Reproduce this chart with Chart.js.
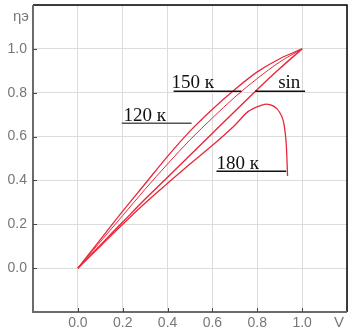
<!DOCTYPE html>
<html><head><meta charset="utf-8">
<script src="https://cdn.jsdelivr.net/npm/chart.js@4/dist/chart.umd.min.js"></script>
<style>html,body{margin:0;padding:0;background:#fff}canvas{display:block}</style>
</head><body>
<canvas id="c" width="356" height="330"></canvas>
<script>
// Data
const v120 = [0, 0.1, 0.2, 0.3, 0.4, 0.5, 0.6, 0.7, 0.8, 0.9, 1.0];
const eta120 = [0, 0.13, 0.26, 0.385, 0.51, 0.625, 0.725, 0.815, 0.895, 0.955, 1.0];
const v150 = [0, 0.1, 0.2, 0.3, 0.4, 0.5, 0.6, 0.7, 0.8, 0.9, 1.0];
const eta150 = [0, 0.12, 0.24, 0.36, 0.475, 0.585, 0.685, 0.78, 0.865, 0.94, 1.0];
const vSin = [0, 0.1, 0.2, 0.3, 0.4, 0.5, 0.6, 0.7, 0.8, 0.9, 1.0];
const etaSin = [0, 0.105, 0.21, 0.315, 0.415, 0.515, 0.615, 0.715, 0.815, 0.91, 1.0];
const v180 = [0, 0.1, 0.2, 0.3, 0.4, 0.5, 0.6, 0.7, 0.76, 0.82, 0.84, 0.87, 0.9, 0.92, 0.93, 0.935];
const eta180 = [0, 0.1, 0.2, 0.297, 0.387, 0.475, 0.56, 0.652, 0.715, 0.743, 0.748, 0.74, 0.71, 0.65, 0.55, 0.42];
const xTicks = [-0.2, 0, 0.2, 0.4, 0.6, 0.8, 1.0, 1.2];
const yTicks = [-0.2, 0, 0.2, 0.4, 0.6, 0.8, 1.0, 1.2];
const curveLabels = ['120 к', '150 к', 'sin', '180 к'];
const yTitle = 'ηэ';
const xTitle = 'V';

const RED = '#e8283a';
const pts = (xs, ys) => xs.map((x, i) => ({x, y: ys[i]}));

// label anchor in data units: [text-left, baseline, underline-from, underline-to, underline-y]
const labelAnchors = [
  [0.204, 0.673, 0.196, 0.507, 0.664],
  [0.418, 0.823, 0.427, 0.729, 0.809],
  [0.893, 0.823, 0.791, 1.013, 0.809],
  [0.618, 0.452, 0.618, 0.929, 0.441]
];

const decor = {
  id: 'decor',
  afterDatasetsDraw(chart) {
    const {ctx, chartArea: a, scales: {x, y}} = chart;
    ctx.save();
    // frame
    ctx.lineWidth = 1.5;
    ctx.strokeStyle = '#000';
    ctx.beginPath();
    ctx.moveTo(a.left, a.top); ctx.lineTo(a.right, a.top); ctx.lineTo(a.right, a.bottom);
    ctx.stroke();
    ctx.strokeStyle = '#6b6b6b';
    ctx.lineWidth = 2;
    ctx.beginPath();
    ctx.moveTo(a.left, a.top); ctx.lineTo(a.left, a.bottom); ctx.lineTo(a.right, a.bottom);
    ctx.stroke();
    // inner tick marks
    ctx.lineWidth = 1;
    ctx.strokeStyle = '#444';
    ctx.beginPath();
    yTicks.slice(1, -1).forEach(t => { const py = Math.round(y.getPixelForValue(t)) + 0.5; ctx.moveTo(a.left, py); ctx.lineTo(a.left + 4, py); });
    xTicks.slice(1, -1).forEach(t => { const px = Math.round(x.getPixelForValue(t)) + 0.5; ctx.moveTo(px, a.bottom); ctx.lineTo(px, a.bottom - 4); });
    ctx.stroke();
    // curve labels
    ctx.font = '19px "Liberation Serif", serif';
    ctx.fillStyle = '#111';
    ctx.textBaseline = 'alphabetic';
    ctx.textAlign = 'left';
    labelAnchors.forEach((L, i) => {
      ctx.fillText(curveLabels[i], x.getPixelForValue(L[0]), y.getPixelForValue(L[1]));
      ctx.strokeStyle = i === 0 ? '#555' : '#111';
      ctx.lineWidth = 1.5;
      ctx.beginPath();
      const uy = Math.round(y.getPixelForValue(L[4])) + 0.25;
      ctx.moveTo(x.getPixelForValue(L[2]), uy);
      ctx.lineTo(x.getPixelForValue(L[3]), uy);
      ctx.stroke();
    });
    // axis titles
    ctx.font = '15px "Liberation Sans", Arial, sans-serif';
    ctx.fillStyle = '#777';
    ctx.textAlign = 'right';
    ctx.textBaseline = 'middle';
    ctx.fillText(yTitle, a.left - 4, a.top + 12);
    ctx.textAlign = 'center';
    ctx.fillText(xTitle, a.right - 8, a.bottom + 11);
    ctx.restore();
  }
};

const fmt = v => (Math.abs(v - 1.2) < 1e-6 || Math.abs(v + 0.2) < 1e-6) ? '' : v.toFixed(1);

new Chart(document.getElementById('c'), {
  type: 'scatter',
  data: {
    datasets: [
      {data: pts(v120, eta120), borderWidth: 1.3},
      {data: pts(v150, eta150), borderWidth: 1},
      {data: pts(vSin, etaSin), borderWidth: 1.4},
      {data: pts(v180, eta180), borderWidth: 1.3}
    ].map(d => Object.assign(d, {showLine: true, borderColor: RED, pointRadius: 0, tension: 0.4, cubicInterpolationMode: 'monotone', fill: false}))
  },
  options: {
    responsive: false,
    animation: false,
    devicePixelRatio: 1,
    layout: {padding: {top: 5, right: 9, left: 0, bottom: 0}},
    plugins: {legend: {display: false}, tooltip: {enabled: false}},
    scales: {
      x: {
        type: 'linear', min: -0.2, max: 1.2,
        afterBuildTicks: s => { s.ticks = xTicks.map(v => ({value: v})); },
        afterFit: s => { s.height = 18; s.paddingLeft = 0; s.paddingRight = 0; },
        ticks: {callback: fmt, color: '#777', font: {family: '"Liberation Sans", Arial, sans-serif', size: 14}, padding: 3, maxRotation: 0, autoSkip: false},
        grid: {color: '#dcdcdc', lineWidth: 1, drawTicks: false},
        border: {display: false}
      },
      y: {
        type: 'linear', min: -0.2, max: 1.2,
        afterBuildTicks: s => { s.ticks = yTicks.map(v => ({value: v})); },
        afterFit: s => { s.width = 33; s.paddingTop = 0; s.paddingBottom = 0; },
        ticks: {callback: fmt, color: '#777', font: {family: '"Liberation Sans", Arial, sans-serif', size: 14}, padding: 6, autoSkip: false},
        grid: {color: '#dcdcdc', lineWidth: 1, drawTicks: false},
        border: {display: false}
      }
    }
  },
  plugins: [decor]
});
</script>
</body></html>
